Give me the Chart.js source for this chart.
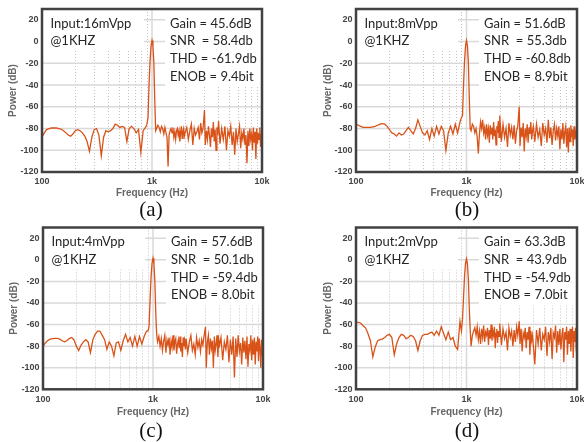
<!DOCTYPE html>
<html lang="en">

<head>
    <meta charset="UTF-8">
    <title>FFT | Espectro</title>
    <script src="https://cdn.jsdelivr.net/npm/chart.js"></script>
    <style>
        body {
            margin: 0;
            background: #fff;
            width: 584px;
            height: 442px;
            position: relative;
            overflow: hidden;
        }

        canvas {
            position: absolute;
        }

        .legenda {
            position: absolute;
            width: 60px;
            margin-left: -30px;
            text-align: center;
            font-family: "Liberation Serif", serif;
            font-size: 21px;
            line-height: 1;
            color: #111;
        }
    </style>
</head>

<body>

    <canvas id="graficoA" width="292" height="221" style="left:0px;top:0px"></canvas>
    <canvas id="graficoB" width="292" height="221" style="left:292px;top:0px"></canvas>
    <canvas id="graficoC" width="292" height="221" style="left:0px;top:221px"></canvas>
    <canvas id="graficoD" width="292" height="221" style="left:292px;top:221px"></canvas>

    <div class="legenda" style="left:151px;top:199px">(a)</div>
    <div class="legenda" style="left:467px;top:199px">(b)</div>
    <div class="legenda" style="left:151px;top:420px">(c)</div>
    <div class="legenda" style="left:467px;top:420px">(d)</div>

</body>

<script>
    // eixo de frequencia (Hz), comum aos quatro graficos
    var freqHz = [
        100, 105, 110, 116, 122, 128, 135, 142, 149, 157,
        165, 173, 182, 191, 201, 211, 222, 233, 245, 257,
        270, 284, 298, 313, 329, 346, 363, 381, 400, 420,
        441, 463, 486, 510, 536, 563, 591, 620, 651, 684,
        718, 754, 792, 831, 873, 900,
        920, 940, 960, 980, 1000, 1020, 1040, 1060, 1080,
        1100, 1130, 1160, 1190, 1220, 1250, 1280, 1310, 1340, 1370,
        1400, 1430, 1460, 1490, 1520, 1550, 1580, 1610, 1640, 1670,
        1700, 1730, 1760, 1790, 1820, 1850, 1880, 1910, 1940, 1970,
        2000, 2070, 2140, 2210, 2280, 2350, 2420, 2490, 2560, 2630,
        2700, 2770, 2840, 2910, 3000, 3050, 3120, 3190, 3260, 3330,
        3400, 3470, 3540, 3610, 3680, 3750, 3820, 3890, 3960, 4030,
        4150, 4300, 4450, 4600, 4750, 4900, 5050, 5200, 5350, 5500,
        5650, 5800, 5950, 6100, 6250, 6400, 6550, 6700, 6850, 7000,
        7150, 7300, 7450, 7600, 7750, 7900, 8050, 8200, 8350, 8500,
        8650, 8800, 8950, 9100, 9250, 9400, 9550, 9700, 9850, 10000
    ];

    // potencia (dB) - entrada 16mVpp
    var potenciaA = [
        -88, -84, -81, -80, -79.5, -79.5, -79.5, -80, -80.5, -82,
        -84, -86, -87, -85, -82, -81, -82, -84, -87, -92,
        -101, -88, -81, -80, -86, -105, -88, -82, -83, -82,
        -80, -76, -77, -79, -78, -79, -92, -80, -78, -80,
        -84, -81, -102, -82, -79, -76,
        -70, -40, -18, -4, 1, -4, -20, -55, -82,
        -80, -77, -79, -83, -78, -80, -85, -79, -84, -88,
        -115, -86, -82, -80, -84, -79, -88, -83, -90, -82,
        -80, -86, -82, -92, -84, -78, -89, -83, -80, -87,
        -84, -79, -90, -82, -76, -95, -80, -86, -83, -79,
        -90, -75, -84, -80, -63, -95, -82, -90, -78, -86,
        -97, -80, -88, -74, -92, -81, -100, -79, -86, -73,
        -94, -80, -90, -78, -100, -82, -87, -78, -95, -83,
        -104, -80, -92, -85, -78, -98, -84, -90, -80, -95,
        -86, -112, -82, -96, -80, -90, -85, -100, -79, -93,
        -83, -108, -80, -94, -84, -90, -79, -97, -85, -92
    ];

    // potencia (dB) - entrada 8mVpp
    var potenciaB = [
        -76, -77, -78, -79, -79, -79, -79, -78.5, -78, -77,
        -76, -75.5, -76, -78, -81, -84, -85, -87, -84, -86,
        -85, -82, -79, -82, -85, -80, -72, -78, -84, -86,
        -82, -90, -80, -87, -78, -85, -78, -82, -100, -84,
        -78, -85, -76, -84, -74, -70,
        -68, -40, -18, -4, 1, -4, -20, -52, -80,
        -82, -76, -78, -84, -80, -88, -103, -85, -74, -80,
        -72, -84, -79, -90, -76, -86, -80, -93, -77, -85,
        -79, -90, -74, -87, -81, -95, -78, -84, -73, -88,
        -68, -92, -76, -88, -80, -97, -75, -86, -79, -90,
        -77, -94, -82, -78, -60, -96, -79, -88, -75, -101,
        -80, -87, -76, -93, -79, -85, -74, -90, -82, -78,
        -92, -76, -88, -81, -96, -75, -86, -80, -93, -72,
        -89, -79, -95, -82, -76, -91, -80, -87, -78, -99,
        -81, -90, -75, -94, -83, -78, -97, -80, -102, -79,
        -92, -77, -88, -81, -96, -78, -90, -83, -86, -107
    ];

    // potencia (dB) - entrada 4mVpp
    var potenciaC = [
        -80, -77, -75, -73.5, -73, -72.7, -72.7, -73.5, -75, -76,
        -75, -73, -72, -74, -80, -84, -79, -76, -74, -76,
        -86, -74, -69, -66, -66, -70, -74, -83, -76, -80,
        -89, -77, -76, -84, -75, -69, -76, -72, -80, -71,
        -80, -71, -78, -71, -66, -66,
        -62, -38, -16, -3, 1.5, -4, -20, -50, -69,
        -76, -71, -80, -73, -84, -75, -70, -86, -74, -79,
        -72, -88, -75, -81, -70, -84, -76, -73, -87, -78,
        -74, -82, -71, -85, -77, -90, -72, -80, -75, -83,
        -73, -86, -76, -70, -84, -78, -88, -72, -81, -75,
        -85, -74, -79, -71, -62, -100, -76, -70, -88, -73,
        -82, -75, -100, -71, -84, -78, -70, -90, -74, -79,
        -72, -93, -76, -83, -70, -95, -74, -88, -71, -109,
        -73, -90, -70, -85, -77, -97, -72, -86, -75, -92,
        -71, -99, -78, -84, -70, -93, -74, -88, -72, -97,
        -76, -85, -71, -94, -73, -82, -100, -74, -88, -90
    ];

    // potencia (dB) - entrada 2mVpp
    var potenciaD = [
        -58, -58, -58.5, -61, -63, -68, -75, -90, -81, -75,
        -74, -73.5, -72, -70, -69, -72, -88, -78, -72, -69,
        -70, -73, -72, -70, -71, -75, -84, -75, -70, -69,
        -69, -68, -67, -70, -66, -70, -62, -68, -74, -67,
        -74, -72, -80, -83, -57, -66,
        -55, -35, -15, -3, 1, -4, -18, -45, -65,
        -80, -70, -66, -63, -70, -62, -74, -66, -78, -64,
        -72, -61, -76, -67, -70, -63, -79, -65, -73, -60,
        -75, -66, -70, -62, -82, -68, -64, -77, -66, -71,
        -59, -79, -64, -73, -67, -84, -63, -72, -66, -80,
        -65, -76, -62, -70, -57, -78, -64, -85, -68, -72,
        -63, -82, -67, -74, -62, -88, -66, -75, -70, -80,
        -97, -65, -78, -63, -84, -69, -74, -62, -89, -67,
        -76, -63, -92, -68, -72, -61, -86, -66, -79, -64,
        -83, -70, -63, -95, -67, -74, -62, -88, -66, -78,
        -64, -85, -69, -62, -91, -66, -76, -63, -84, -90
    ];

    // marcas dos eixos
    var ticksX = [100, 1000, 10000];
    var rotulosX = ['100', '1k', '10k'];
    var ticksY = [-120, -100, -80, -60, -40, -20, 0, 20];
    var gradeMenorX = [200, 300, 400, 500, 600, 700, 800, 900, 2000, 3000, 4000, 5000, 6000, 7000, 8000, 9000];
    var gradeMaiorX = [1000];

    // textos das anotacoes
    var entradas = ['Input:16mVpp', 'Input:8mVpp', 'Input:4mVpp', 'Input:2mVpp'];
    var ganhos = ['Gain = 45.6dB', 'Gain = 51.6dB', 'Gain = 57.6dB', 'Gain = 63.3dB'];
    var snrs = ['SNR  = 58.4db', 'SNR  = 55.3db', 'SNR  = 50.1db', 'SNR  = 43.9db'];
    var thds = ['THD = -61.9db', 'THD = -60.8db', 'THD = -59.4db', 'THD = -54.9db'];
    var enobs = ['ENOB = 9.4bit', 'ENOB = 8.9bit', 'ENOB = 8.0bit', 'ENOB = 7.0bit'];

    // posicao de cada grafico dentro do seu canvas
    var paineis = [
        { id: 'graficoA', dados: potenciaA, esquerda: 42, direita: 30, topo: 9, base: 49, tituloY: 7.3, tituloX: 21.7 },
        { id: 'graficoB', dados: potenciaB, esquerda: 64, direita: 7, topo: 9, base: 49, tituloY: 30.7, tituloX: 21.7 },
        { id: 'graficoC', dados: potenciaC, esquerda: 43, direita: 29, topo: 6.5, base: 52.7, tituloY: 8, tituloX: 23.3 },
        { id: 'graficoD', dados: potenciaD, esquerda: 64, direita: 7, topo: 6.5, base: 52.7, tituloY: 30.7, tituloX: 23.3 }
    ];

    function criarPlugin(indice) {
        return {
            id: 'gradeEAnotacoes',
            beforeDatasetsDraw(chart) {
                const ctx = chart.ctx;
                const a = chart.chartArea;
                const x = chart.scales.x;
                const y = chart.scales.y;

                ctx.save();
                ctx.beginPath();
                ctx.rect(a.left, a.top, a.right - a.left, a.bottom - a.top);
                ctx.clip();

                // grade menor pontilhada
                ctx.strokeStyle = '#c2c2c2';
                ctx.lineWidth = 1;
                ctx.setLineDash([1, 2]);
                gradeMenorX.forEach(function (f) {
                    var px = Math.round(x.getPixelForValue(f)) + 0.5;
                    ctx.beginPath();
                    ctx.moveTo(px, a.top);
                    ctx.lineTo(px, a.bottom);
                    ctx.stroke();
                });

                // grade maior
                ctx.setLineDash([]);
                ctx.strokeStyle = '#d9d9d9';
                ctx.lineWidth = 1.5;
                ticksY.forEach(function (v) {
                    var py = y.getPixelForValue(v);
                    ctx.beginPath();
                    ctx.moveTo(a.left, py);
                    ctx.lineTo(a.right, py);
                    ctx.stroke();
                });
                gradeMaiorX.forEach(function (f) {
                    var px = x.getPixelForValue(f);
                    ctx.beginPath();
                    ctx.moveTo(px, a.top);
                    ctx.lineTo(px, a.bottom);
                    ctx.stroke();
                });

                // caixas brancas atras dos textos
                ctx.fillStyle = '#ffffff';
                ctx.fillRect(a.left, a.top, 102, 42);
                ctx.fillRect(a.left + 123, a.top, a.right - a.left - 123, 78);

                // textos
                ctx.fillStyle = '#262626';
                ctx.font = '13px Lato';
                ctx.textBaseline = 'middle';
                ctx.textAlign = 'left';
                var esquerda = [entradas[indice], '@1KHZ'];
                var direita = [ganhos[indice], snrs[indice], thds[indice], enobs[indice]];
                esquerda.forEach(function (t, i) {
                    ctx.fillText(t, a.left + 8.5, a.top + 14.5 + i * 17.7);
                });
                direita.forEach(function (t, i) {
                    ctx.fillText(t, a.left + 128, a.top + 14.5 + i * 17.7);
                });
                ctx.restore();
            },
            afterDatasetsDraw(chart) {
                const ctx = chart.ctx;
                const a = chart.chartArea;
                ctx.save();
                ctx.strokeStyle = '#414141';
                ctx.lineWidth = 2.5;
                ctx.strokeRect(a.left, a.top, a.right - a.left, a.bottom - a.top);
                ctx.restore();
            }
        };
    }

    function plotarGrafico(painel, indice) {
        let pontos = [];
        for (let i = 0; i < freqHz.length; i++) {
            pontos.push({ x: freqHz[i], y: painel.dados[i] });
        }

        const fonteTick = { family: 'Liberation Sans', size: 9, weight: 'bold' };
        const fonteTitulo = { family: 'Liberation Sans', size: 10, weight: 'bold' };

        const config = {
            type: 'line',
            data: {
                datasets: [{
                    data: pontos,
                    borderColor: '#D95319',
                    borderWidth: 1.3,
                    pointRadius: 0,
                    tension: 0,
                    fill: false
                }]
            },
            options: {
                responsive: false,
                animation: false,
                events: [],
                layout: {
                    padding: { left: 0, right: painel.direita, top: painel.topo, bottom: 0 }
                },
                plugins: {
                    legend: { display: false },
                    tooltip: { enabled: false }
                },
                scales: {
                    x: {
                        type: 'logarithmic',
                        min: 100,
                        max: 10000,
                        afterBuildTicks: function (s) {
                            s.ticks = ticksX.map(function (v) { return { value: v }; });
                        },
                        afterFit: function (s) {
                            s.height = painel.base;
                            s.paddingLeft = 0;
                            s.paddingRight = 0;
                        },
                        grid: { display: false, drawTicks: false },
                        border: { display: false },
                        ticks: {
                            padding: 4.5,
                            autoSkip: false,
                            maxRotation: 0,
                            color: '#444',
                            font: fonteTick,
                            callback: function (v) { return rotulosX[ticksX.indexOf(v)]; }
                        },
                        title: {
                            display: true,
                            text: 'Frequency (Hz)',
                            color: '#666',
                            font: fonteTitulo,
                            padding: { top: 0, bottom: painel.tituloX }
                        }
                    },
                    y: {
                        min: -120,
                        max: 30,
                        afterBuildTicks: function (s) {
                            s.ticks = ticksY.map(function (v) { return { value: v }; });
                        },
                        afterFit: function (s) {
                            s.width = painel.esquerda;
                            s.paddingTop = 0;
                            s.paddingBottom = 0;
                        },
                        grid: { display: false, drawTicks: false },
                        border: { display: false },
                        ticks: {
                            padding: 3.5,
                            color: '#444',
                            font: fonteTick
                        },
                        title: {
                            display: true,
                            text: 'Power (dB)',
                            color: '#666',
                            font: fonteTitulo,
                            padding: { top: painel.tituloY, bottom: 0 }
                        }
                    }
                }
            },
            plugins: [criarPlugin(indice)]
        };

        let myChart = new Chart(document.getElementById(painel.id), config);
    }

    paineis.forEach(plotarGrafico);
</script>

</html>
